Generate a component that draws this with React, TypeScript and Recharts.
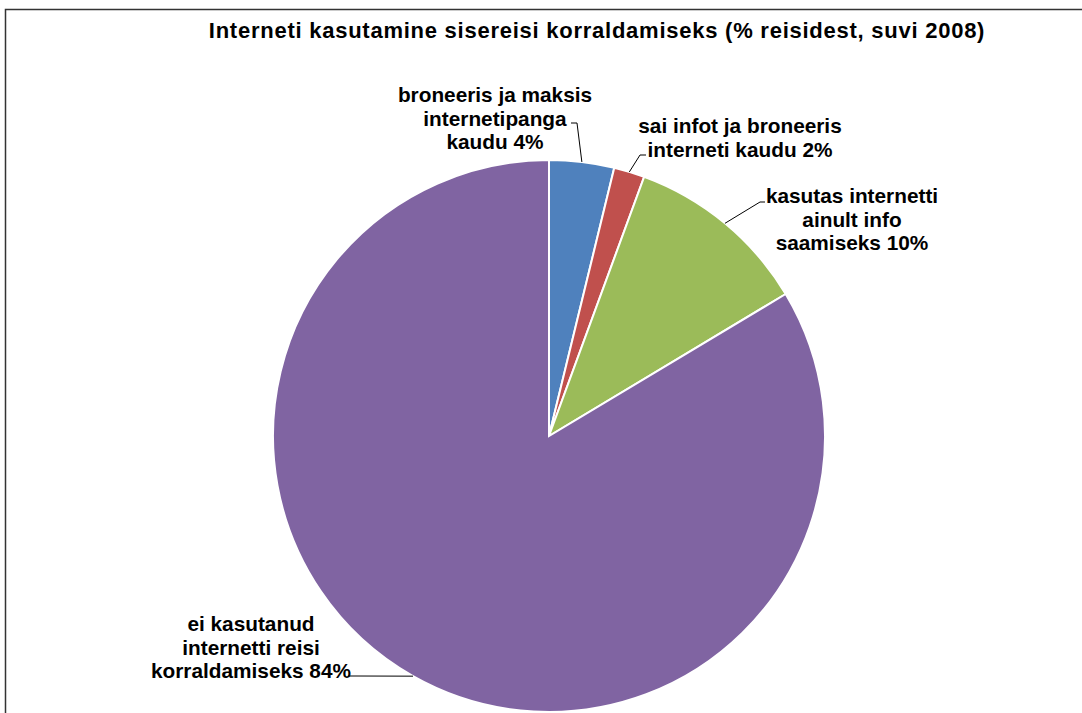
import React from "react";
import { PieChart, Pie, Cell, Customized } from "recharts";

const categories = [
  "broneeris ja maksis internetipanga kaudu",
  "sai infot ja broneeris interneti kaudu",
  "kasutas internetti ainult info saamiseks",
  "ei kasutanud internetti reisi korraldamiseks",
];
const values = [3.8, 1.8, 10.8, 83.6];
const labelLines = [
  ["broneeris ja maksis", "internetipanga", "kaudu 4%"],
  ["sai infot ja broneeris", "interneti kaudu 2%"],
  ["kasutas internetti", "ainult info", "saamiseks 10%"],
  ["ei kasutanud", "internetti reisi", "korraldamiseks 84%"],
];
const colors = ["#4F81BD", "#C0504D", "#9BBB59", "#8064A2"];
const title = "Interneti kasutamine sisereisi korraldamiseks (% reisidest, suvi 2008)";

// label layout (text center x, first baseline y, leader elbow and end)
const labelLayout = [
  { x: 495, y: 102, elbow: [577, 123], end: [571, 123] },
  { x: 740, y: 133, elbow: [640, 155], end: [646, 155] },
  { x: 852, y: 203, elbow: [760, 202], end: [765, 202] },
  { x: 251, y: 631, elbow: [356, 676], end: [348, 676] },
];

const data = categories.map((name, i) => ({ name, value: values[i] }));

const FONT = "'Liberation Sans', Arial, sans-serif";
const RAD = Math.PI / 180;

const renderLabel = (props: any) => {
  const { cx, cy, midAngle, outerRadius, index } = props;
  const sx = cx + outerRadius * Math.cos(-midAngle * RAD);
  const sy = cy + outerRadius * Math.sin(-midAngle * RAD);
  const lay = labelLayout[index];
  const lines = labelLines[index];
  return (
    <g key={`lbl-${index}`}>
      <polyline
        points={`${sx},${sy} ${lay.elbow[0]},${lay.elbow[1]} ${lay.end[0]},${lay.end[1]}`}
        fill="none"
        stroke="#000"
        strokeWidth={1}
      />
      <text
        x={lay.x}
        textAnchor="middle"
        fontFamily={FONT}
        fontWeight="bold"
        fontSize={20.8}
        fill="#000"
      >
        {lines.map((l, j) => (
          <tspan key={j} x={lay.x} y={lay.y + j * 23.7}>
            {l}
          </tspan>
        ))}
      </text>
    </g>
  );
};

const Frame = () => (
  <g>
    <path d="M5.5,713 V9.5 H1082" fill="none" stroke="#333" strokeWidth={1.5} />
    <text
      x={597}
      y={38}
      textAnchor="middle"
      fontFamily={FONT}
      fontWeight="bold"
      fontSize={22}
      letterSpacing={0.75}
      fill="#000"
    >
      {title}
    </text>
  </g>
);

export default function App() {
  return (
    <div style={{ position: "absolute", left: 0, top: 0, width: 1082, height: 713, background: "#fff" }}>
      <PieChart width={1082} height={713} margin={{ top: 0, right: 0, bottom: 0, left: 0 }}>
        <Customized component={Frame} />
        <Pie
          data={data}
          dataKey="value"
          nameKey="name"
          cx={549}
          cy={436}
          outerRadius={276}
          startAngle={90}
          endAngle={-270}
          stroke="#fff"
          strokeWidth={2}
          label={renderLabel}
          labelLine={false}
          isAnimationActive={false}
        >
          {data.map((d, i) => (
            <Cell key={d.name} fill={colors[i]} />
          ))}
        </Pie>
      </PieChart>
    </div>
  );
}
